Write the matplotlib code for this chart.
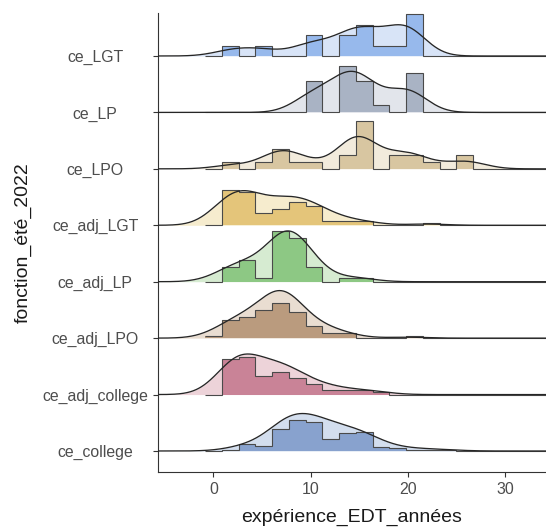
import numpy as np
import matplotlib
matplotlib.use("Agg")
import matplotlib.pyplot as plt

plt.rcParams['font.family'] = ['Liberation Sans', 'DejaVu Sans']

# ---------------- data (years of experience -> number of people) ----------------
groups = ["ce_college", "ce_adj_college", "ce_adj_LPO", "ce_adj_LP",
          "ce_adj_LGT", "ce_LPO", "ce_LP", "ce_LGT"]          # bottom -> top

ce_LGT = {2: 1, 5: 1, 10: 2, 13: 1, 14: 1, 15: 2, 16: 1, 17: 1, 19: 1, 20: 4}
ce_LP = {10: 3, 11: 1, 13: 2, 14: 4, 15: 3, 16: 1, 17: 1, 20: 5}
ce_LPO = {2: 1, 6: 1, 7: 3, 8: 1, 10: 1, 14: 2, 15: 7,
          19: 2, 20: 2, 22: 1, 26: 2}
ce_adj_LGT = {1: 7, 2: 8, 3: 7, 4: 7, 5: 3, 6: 2, 7: 7, 8: 5, 9: 5, 10: 5,
              11: 3, 12: 2, 13: 1, 14: 1, 15: 1, 16: 1, 22: 1}
ce_adj_LP = {1: 2, 2: 2, 3: 3, 4: 3, 5: 1, 7: 14, 8: 6, 9: 6, 10: 3, 11: 1,
             14: 1, 15: 1}
ce_adj_LPO = {0: 1, 1: 3, 2: 7, 3: 4, 4: 8, 5: 2, 6: 14, 7: 20, 8: 12, 9: 3,
              10: 5, 11: 2, 12: 3, 13: 2, 14: 1, 20: 1}
ce_adj_college = {1: 5, 2: 12, 3: 10, 4: 8, 5: 6, 6: 3, 7: 11, 8: 5, 9: 3,
                  10: 3, 11: 2, 12: 2, 13: 1, 14: 1, 15: 1, 16: 1, 17: 1}
ce_college = {2: 1, 3: 2, 4: 3, 5: 2, 6: 2, 7: 16, 8: 11, 9: 12, 10: 12,
              11: 9, 12: 9, 13: 6, 14: 7, 15: 8, 16: 6, 17: 2, 18: 1, 19: 2,
              21: 1, 22: 1, 24: 1}

group_data = {"ce_LGT": ce_LGT, "ce_LP": ce_LP, "ce_LPO": ce_LPO,
              "ce_adj_LGT": ce_adj_LGT, "ce_adj_LP": ce_adj_LP,
              "ce_adj_LPO": ce_adj_LPO, "ce_adj_college": ce_adj_college,
              "ce_college": ce_college}

hist_colors = {"ce_LGT": "#97b9ec", "ce_LP": "#a9b3c4", "ce_LPO": "#d8c6a1",
               "ce_adj_LGT": "#e4c57a", "ce_adj_LP": "#8dc884",
               "ce_adj_LPO": "#ba9b7e", "ce_adj_college": "#c98397",
               "ce_college": "#88a2ce"}
dens_colors = {"ce_LGT": "#d8e4f7", "ce_LP": "#e2e5eb", "ce_LPO": "#f2ebdc",
               "ce_adj_LGT": "#f6ecce", "ce_adj_LP": "#d6ebd1",
               "ce_adj_LPO": "#e9ddd1", "ce_adj_college": "#edd3d9",
               "ce_college": "#d3deee"}

x_ticks = [0, 10, 20, 30]
x_label = "expérience_EDT_années"
y_label = "fonction_été_2022"

# ---------------- stats ----------------
def expand(d):
    return np.repeat(np.array(list(d.keys()), float), list(d.values()))

samples = {g: expand(group_data[g]) for g in groups}
bw = 2.0                      # kernel bandwidth (years)

binw = 50 / 29
edges = -binw / 2 + np.arange(31) * binw

xlim = (-5.71, 34.21)
grid = np.linspace(xlim[0] - 1, xlim[1] + 1, 800)

hist_d, kde_d = {}, {}
for g in groups:
    s = samples[g]
    idx = np.searchsorted(edges, s, side="left") - 1     # right-closed bins
    cnt = np.bincount(idx, minlength=len(edges) - 1)[:len(edges) - 1]
    hist_d[g] = cnt / (len(s) * binw)
    z = (grid[:, None] - s[None, :]) / bw
    kde_d[g] = np.exp(-0.5 * z ** 2).sum(1) / (len(s) * bw * np.sqrt(2 * np.pi))

scale = 0.9
hmax = max(h.max() for h in hist_d.values())
kmax = max(k.max() for k in kde_d.values())

# ---------------- figure ----------------
fig = plt.figure(figsize=(5.46, 5.27), dpi=100)
ax = fig.add_axes([158 / 546, 55 / 527, 1 - 158 / 546, 459 / 527])

for i in range(len(groups) - 1, -1, -1):
    g = groups[i]
    y0 = i
    z0 = 10 + (len(groups) - i) * 5
    k = kde_d[g] / kmax * scale
    h = hist_d[g] / hmax * scale
    ax.fill_between(grid, y0, y0 + k, color=dens_colors[g], lw=0, zorder=z0)
    ax.stairs(y0 + h, edges, baseline=y0, fill=True, color=hist_colors[g],
              lw=0, zorder=z0 + 1)
    ax.stairs(y0 + h, edges, baseline=None, color="#4a4a4a", lw=0.8,
              zorder=z0 + 2)
    ax.plot(grid, y0 + k, color="#262626", lw=0.95, zorder=z0 + 3)

ax.set_xlim(*xlim)
ax.set_ylim(-21 / 56.43, 7 + 43 / 56.43)
ax.set_yticks(range(len(groups)))
ax.set_yticklabels(groups)
ax.set_xticks(x_ticks)
for s in ["top", "right"]:
    ax.spines[s].set_visible(False)
for s in ["left", "bottom"]:
    ax.spines[s].set_color("#333333")
    ax.spines[s].set_linewidth(0.8)
ax.tick_params(axis="both", colors="#333333", length=3.6, width=0.8,
               labelsize=11.4, labelcolor="#4d4d4d", pad=3.5)
ax.tick_params(axis="y", pad=41.6)
for lab in ax.get_yticklabels():
    lab.set_horizontalalignment("center")
ax.set_xlabel(x_label, fontsize=14, color="#1a1a1a")
ax.set_ylabel(y_label, fontsize=14, color="#1a1a1a")
ax.xaxis.set_label_coords(0.5, -0.080)
ax.yaxis.set_label_coords(-0.325, 0.5)

fig.savefig("out.png", dpi=100)
